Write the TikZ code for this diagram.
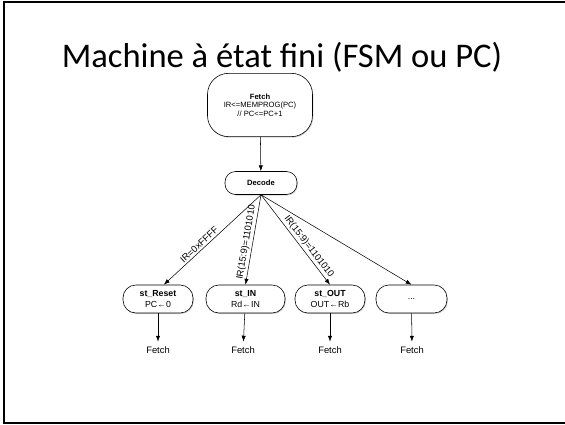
\documentclass[tikz,border=0pt]{standalone}
\usepackage{fontspec}
\setmainfont{Liberation Sans}
\newfontfamily\titlefont{Carlito}
\usetikzlibrary{arrows.meta,shadows}

\begin{document}
\begin{tikzpicture}[x=0.03cm,y=-0.03cm,
                    >={Latex[length=5pt,width=3.6pt]},
                    state/.style={rectangle,rounded corners=9pt,draw,line width=0.5pt,fill=white,
                      align=center,inner sep=1pt,font=\fontsize{6.5}{7.2}\selectfont,
                      drop shadow={shadow xshift=0.7pt,shadow yshift=-0.9pt,opacity=0.35}},
                    op state/.style={state,rounded corners=11pt,minimum height=0.84cm,font=\fontsize{7.5}{8.6}\selectfont},
                    cond/.style={sloped,above,inner sep=1.5pt,font=\fontsize{8}{9}\selectfont},
                    next/.style={font=\fontsize{8}{9}\selectfont,inner sep=1pt},
                    link/.style={->,line width=0.45pt}]

    \useasboundingbox (0,0) rectangle (565,425);
    \draw[line width=1.6pt] (580,2) -- (4,2) -- (4,423) -- (580,423);

    \node[anchor=base,font=\titlefont\fontsize{29.5}{34}\selectfont] (title) at (282,68)
        {Machine à état fini (FSM ou PC)};

    % Define states
    \node[state,rounded corners=18pt,minimum width=3.15cm,minimum height=1.9cm] (fetch) at (260,105)
        {\textbf{Fetch}\\IR<=MEMPROG(PC)\\// PC<=PC+1};
    \node[state,minimum width=2.16cm,minimum height=0.69cm] (decode) at (261,183)
        {\textbf{Decode}};
    \node[op state,minimum width=2.1cm] (reset) at (158,299) {\textbf{st\_Reset}\\PC←0};
    \node[op state,minimum width=2.37cm] (in) at (245.5,299) {\textbf{st\_IN}\\Rd←IN};
    \node[op state,minimum width=2.1cm] (out) at (330,299) {\textbf{st\_OUT}\\OUT←Rb};
    \node[op state,minimum width=2.13cm] (more) at (411.5,299) {...};

    % Next state
    \node[next] (back1) at (158,350) {Fetch};
    \node[next] (back2) at (243,350) {Fetch};
    \node[next] (back3) at (330,350) {Fetch};
    \node[next] (back4) at (412,350) {Fetch};

    % Transitions
    \draw[link] (fetch) -- (decode);
    \draw[link] (decode.south) -- ([xshift=5pt]reset.north) node[cond,pos=0.6] {IR=0xFFFF};
    \draw[link] (decode.south) -- (in.north) node[cond,pos=0.54] {IR(15:9)=1101010};
    \draw[link] (decode.south) -- (out.north) node[cond,pos=0.62] {IR(15:9)=1101010};
    \draw[link] (decode.south) -- (more.north);
    \draw[link,shorten >=3pt] (reset) -- (back1);
    \draw[link,shorten >=3pt] (in) -- (back2);
    \draw[link,shorten >=3pt] (out) -- (back3);
    \draw[link,shorten >=3pt] (more) -- (back4);

\end{tikzpicture}
\end{document}
